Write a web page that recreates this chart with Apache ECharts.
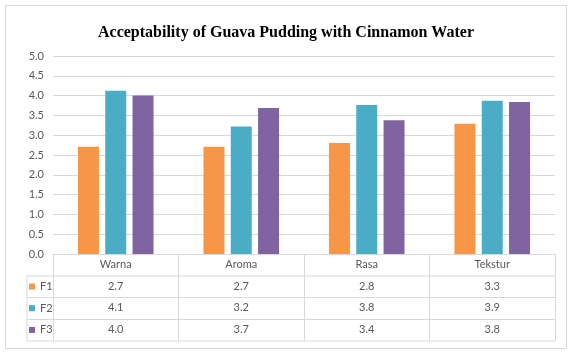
<!DOCTYPE html>
<html>
<head>
<meta charset="utf-8">
<script src="https://cdn.jsdelivr.net/npm/echarts@6/dist/echarts.min.js"></script>
<style>html,body{margin:0;padding:0;background:#fff;}#c{width:572px;height:355px;}</style>
</head>
<body>
<div id="c"></div>
<script>
const categories = ['Warna', 'Aroma', 'Rasa', 'Tekstur'];
const seriesNames = ['F1', 'F2', 'F3'];
const F1 = [2.71, 2.71, 2.80, 3.29];
const F2 = [4.12, 3.22, 3.76, 3.87];
const F3 = [4.00, 3.69, 3.38, 3.84];
const yTicks = ['0.0','0.5','1.0','1.5','2.0','2.5','3.0','3.5','4.0','4.5','5.0'];
const colors = ['#F79646', '#4BACC6', '#8064A2'];
const values = [F1, F2, F3];

const labelFont = 'Lato, "Open Sans", sans-serif';
const gridColor = '#d9d9d9';
const textColor = '#595959';

function rowAxis(idx, offset) {
  return {
    type: 'category', data: categories, position: 'bottom', offset: offset,
    axisLine: {show: false}, axisTick: {show: false}, splitLine: {show: false},
    axisLabel: {margin: 5, color: textColor, fontSize: 11, fontFamily: labelFont,
      formatter: function (v, i) { return values[idx][i].toFixed(1); }}
  };
}

const chart = echarts.init(document.getElementById('c'), null, {renderer: 'canvas'});
chart.setOption({
  animation: false,
  backgroundColor: '#fff',
  color: colors,
  title: {
    text: 'Acceptability of Guava Pudding with Cinnamon Water',
    left: 'center', top: 20,
    textStyle: {fontFamily: '"Liberation Serif", serif', fontWeight: 'bold', fontSize: 16, color: '#000'}
  },
  legend: {
    data: seriesNames, orient: 'vertical', left: 29, top: 281, padding: 0,
    itemWidth: 6, itemHeight: 6, itemGap: 10.7, icon: 'rect',
    textStyle: {color: textColor, fontSize: 11, fontFamily: labelFont}
  },
  grid: {left: 53, right: 17, top: 56, height: 198, containLabel: false},
  xAxis: [
    {
      type: 'category', data: categories, position: 'bottom',
      axisLine: {show: true, lineStyle: {color: gridColor}},
      axisTick: {show: true, length: 87, lineStyle: {color: gridColor}},
      axisLabel: {margin: 5, color: textColor, fontSize: 11, fontFamily: labelFont}
    },
    rowAxis(0, 22),
    rowAxis(1, 43),
    rowAxis(2, 65)
  ],
  yAxis: {
    type: 'value', min: 0, max: 5, interval: 0.5,
    axisLine: {show: false}, axisTick: {show: false},
    splitLine: {lineStyle: {color: gridColor}},
    axisLabel: {margin: 9, color: textColor, fontSize: 11, fontFamily: labelFont,
      formatter: function (v) { return yTicks[Math.round(v / 0.5)]; }}
  },
  series: seriesNames.map(function (n, i) {
    return {name: n, type: 'bar', data: values[i], barWidth: 21, barGap: '30%'};
  }),
  graphic: [
    {type: 'rect', shape: {x: 5.5, y: 5.5, width: 561, height: 343}, style: {fill: null, stroke: gridColor, lineWidth: 1}, z: -1},
    {type: 'line', shape: {x1: 27, y1: 276, x2: 555, y2: 276}, style: {stroke: gridColor, lineWidth: 1}},
    {type: 'line', shape: {x1: 27, y1: 297.5, x2: 555, y2: 297.5}, style: {stroke: gridColor, lineWidth: 1}},
    {type: 'line', shape: {x1: 27, y1: 319.5, x2: 555, y2: 319.5}, style: {stroke: gridColor, lineWidth: 1}},
    {type: 'line', shape: {x1: 27, y1: 341, x2: 555, y2: 341}, style: {stroke: gridColor, lineWidth: 1}},
    {type: 'line', shape: {x1: 27, y1: 276, x2: 27, y2: 341}, style: {stroke: gridColor, lineWidth: 1}}
  ]
});
</script>
</body>
</html>
